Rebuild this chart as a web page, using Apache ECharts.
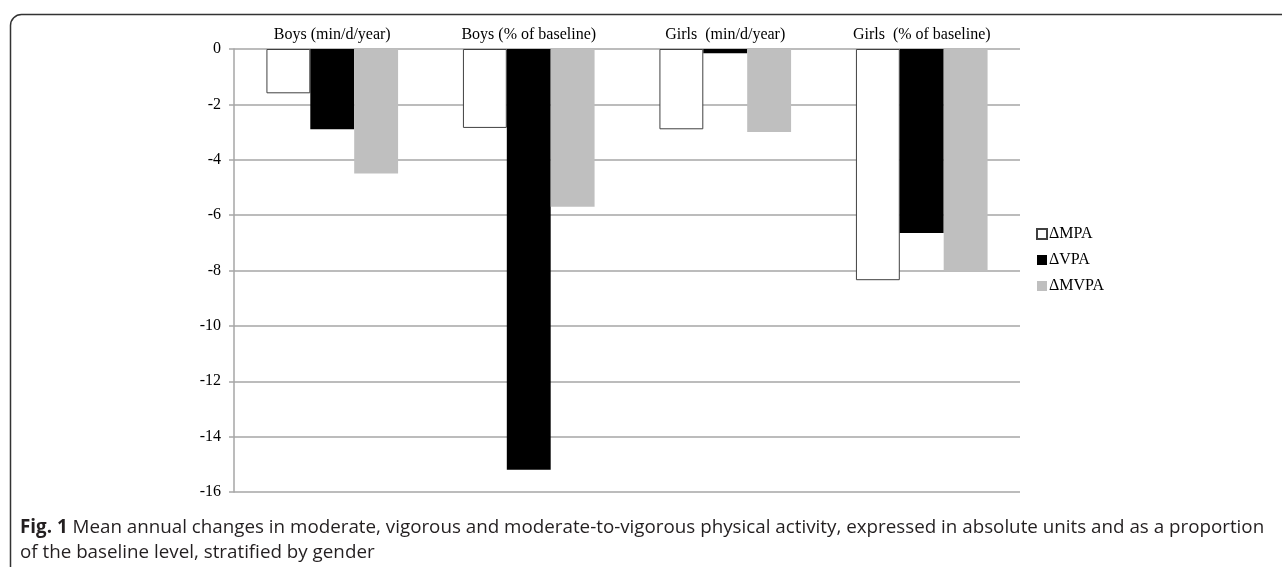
<!DOCTYPE html>
<html>
<head>
<meta charset="utf-8">
<script src="https://cdn.jsdelivr.net/npm/echarts@6/dist/echarts.min.js"></script>
<style>
  html, body { margin: 0; padding: 0; background: #fff; }
  #container { width: 1282px; height: 567px; }
</style>
</head>
<body>
<div id="container"></div>
<script type="text/javascript">
    // chart data
    var categories = ['Boys (min/d/year)', 'Boys (% of baseline)', 'Girls  (min/d/year)', 'Girls  (% of baseline)'];
    var seriesNames = ['\u0394MPA', '\u0394VPA', '\u0394MVPA'];
    var mpaValues = [-1.6, -2.85, -2.9, -8.35];
    var vpaValues = [-2.9, -15.2, -0.15, -6.65];
    var mvpaValues = [-4.5, -5.7, -3.0, -8.0];
    var yTicks = [0, -2, -4, -6, -8, -10, -12, -14, -16];

    var dom = document.getElementById("container");
    var myChart = echarts.init(dom);

    var serif = '"Liberation Serif", "DejaVu Serif", serif';
    var option = {
        animation: false,
        backgroundColor: '#fff',
        textStyle: { fontFamily: serif },
        grid: { left: 234, right: 262, top: 49, bottom: 75, containLabel: false },
        legend: {
            orient: 'vertical',
            left: 1031,
            top: 221,
            itemWidth: 10,
            itemHeight: 10,
            itemGap: 10,
            icon: 'rect',
            textStyle: { fontFamily: serif, fontSize: 16, color: '#000', padding: [0, 0, 0, -3] },
            data: seriesNames
        },
        xAxis: {
            type: 'category',
            position: 'top',
            data: categories,
            axisLine: { show: false },
            axisTick: { show: false },
            axisLabel: { fontFamily: serif, fontSize: 16, color: '#000', margin: 6, interval: 0 }
        },
        yAxis: {
            type: 'value',
            min: yTicks[yTicks.length - 1],
            max: yTicks[0],
            interval: 2,
            axisLine: { show: true, lineStyle: { color: '#a6a6a6', width: 1.5 } },
            axisTick: { show: true, length: 5, lineStyle: { color: '#a6a6a6', width: 1.5 } },
            splitLine: { show: true, lineStyle: { color: '#a6a6a6', width: 1.5 } },
            axisLabel: { fontFamily: serif, fontSize: 16, color: '#000', margin: 13 }
        },
        series: [
            { name: seriesNames[0], type: 'bar', data: mpaValues, barGap: '0%', barCategoryGap: '33%',
              itemStyle: { color: '#ffffff', borderColor: '#404040', borderWidth: 1 } },
            { name: seriesNames[1], type: 'bar', data: vpaValues,
              itemStyle: { color: '#000000' } },
            { name: seriesNames[2], type: 'bar', data: mvpaValues,
              itemStyle: { color: '#bfbfbf' } }
        ],
        graphic: [
            { type: 'rect', left: 8, top: 12, silent: true,
              shape: { width: 1300, height: 600, r: 11 },
              style: { fill: 'none', stroke: '#333', lineWidth: 1.5 } },
            { type: 'text', left: 20, top: 518,
              style: {
                  text: '{b|Fig. 1} Mean annual changes in moderate, vigorous and moderate-to-vigorous physical activity, expressed in absolute units and as a proportion',
                  font: '18.8px "Open Sans", sans-serif', fill: '#231f20',
                  rich: { b: { font: 'bold 18.8px "Open Sans", sans-serif', fill: '#231f20' } }
              } },
            { type: 'text', left: 20, top: 543,
              style: { text: 'of the baseline level, stratified by gender',
                       font: '18.8px "Open Sans", sans-serif', fill: '#231f20' } }
        ]
    };
    if (option && typeof option === "object") {
        myChart.setOption(option, true);
    }
</script>
</body>
</html>
